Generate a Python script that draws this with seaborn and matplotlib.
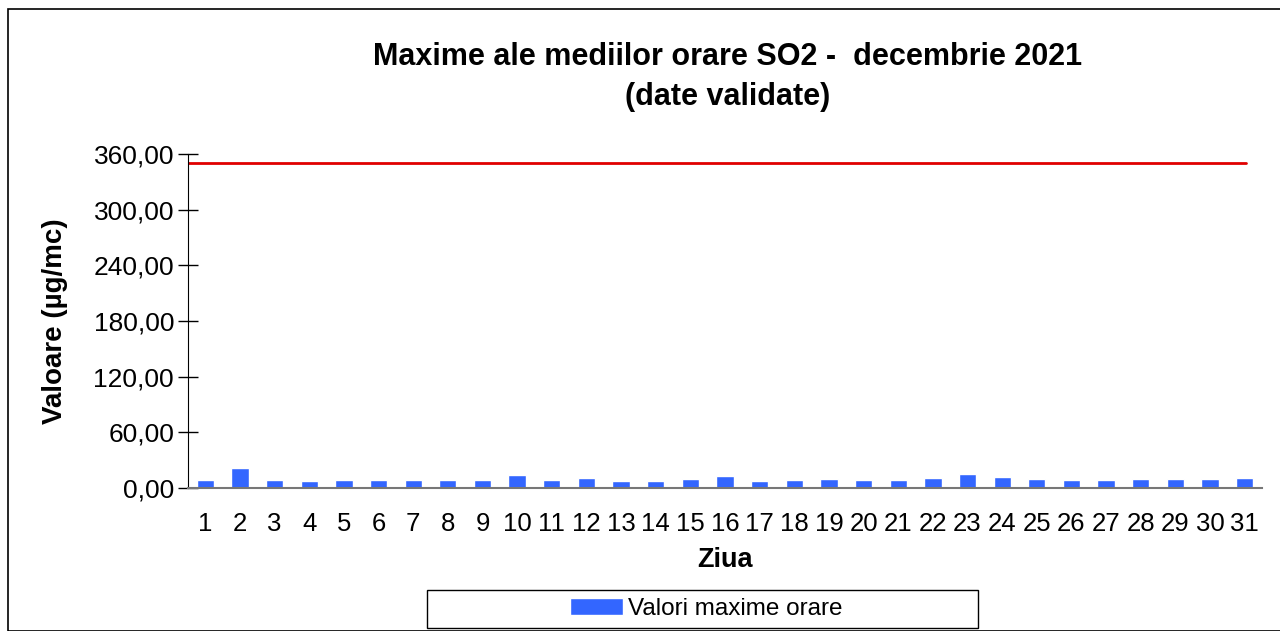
import numpy as np
import pandas as pd
import matplotlib
matplotlib.use("Agg")
import matplotlib.pyplot as plt
import seaborn as sns
from matplotlib.patches import Rectangle

# date
zile = list(range(1, 32))
valori = [8.7, 21.9, 8.7, 7.9, 8.7, 8.3, 8.7, 8.7, 8.7, 13.6,
          8.7, 10.6, 7.6, 7.6, 9.8, 12.8, 7.2, 8.3, 9.5, 8.7,
          8.7, 11.3, 15.5, 12.1, 9.8, 8.7, 8.7, 9.8, 9.5, 9.8, 10.6]
prag = 350
yticks = [0, 60, 120, 180, 240, 300, 360]

df = pd.DataFrame({"Ziua": zile, "Valoare": valori})

sns.set_style("white")
plt.rcParams['font.family'] = ['Liberation Sans', 'DejaVu Sans']
plt.rcParams['text.color'] = 'black'
plt.rcParams['axes.labelcolor'] = 'black'
plt.rcParams['xtick.color'] = 'black'
plt.rcParams['ytick.color'] = 'black'

fig = plt.figure(figsize=(12.8, 6.31), dpi=100)
ax = fig.add_axes([188/1280, 1 - 488/631, (1262-188)/1280, (488-154)/631])

sns.barplot(data=df, x="Ziua", y="Valoare", color="#3366ff", saturation=1,
            width=0.5, ax=ax, label="Valori maxime orare")
ax.axhline(prag, xmin=0, xmax=0.985, color="#e00000", lw=2)

ax.set_ylim(0, 360)
ax.set_xlim(-0.5, 30.5)
ax.set_yticks(yticks)
ax.set_yticklabels([f"{v:.2f}".replace(".", ",") for v in yticks], fontsize=19)
ax.tick_params(axis="y", direction="inout", length=14, width=1, color="black", pad=3, left=True)
ax.tick_params(axis="x", length=0, labelsize=18.5, pad=17)

for s in ["top", "right"]:
    ax.spines[s].set_visible(False)
ax.spines["left"].set_color("black")
ax.spines["bottom"].set_color("#777777")
ax.spines["bottom"].set_linewidth(1.5)

ax.set_xlabel("Ziua", fontsize=19.5, fontweight="bold", labelpad=8)
ax.set_ylabel("Valoare (µg/mc)", fontsize=20, fontweight="bold", labelpad=18)
fig.text(728/1280, 1 - 77/631,
         "Maxime ale mediilor orare SO2 -  decembrie 2021\n(date validate)",
         ha="center", va="center", fontsize=22, fontweight="bold", linespacing=1.4)

leg = ax.legend(loc="center", bbox_to_anchor=(706/1280, 1 - 609/631),
                bbox_transform=fig.transFigure, frameon=False,
                fontsize=17.5, handlelength=2.2, handleheight=0.65,
                handletextpad=0.2)

# cadrul legendei si al figurii
fig.patches.append(Rectangle((427/1280, 1 - 628/631), 551/1280, 38/631,
                             transform=fig.transFigure, fill=False,
                             edgecolor="black", lw=1))
fig.patches.append(Rectangle((8/1280, 0), 1.2, 1 - 9/631, transform=fig.transFigure,
                             fill=False, edgecolor="black", lw=1.2))

fig.savefig("out.png", dpi=100)
